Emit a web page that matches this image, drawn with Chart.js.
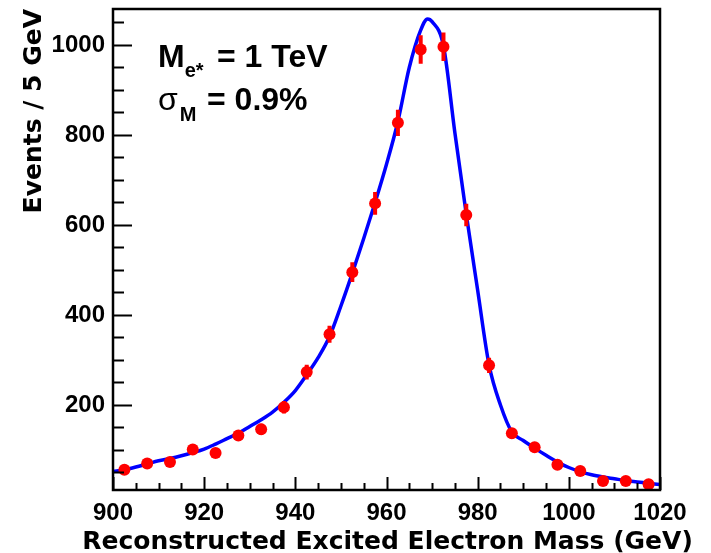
<!DOCTYPE html>
<html>
<head>
<meta charset="utf-8">
<script src="https://cdn.jsdelivr.net/npm/chart.js@4.4.0/dist/chart.umd.min.js"></script>
<style>
  html, body { margin: 0; padding: 0; background: #fff; }
</style>
</head>
<body>
<canvas id="massChart" width="711" height="553"></canvas>
<script>
// binned pseudo-data (5 GeV bins)
const massBins = [902.5, 907.5, 912.5, 917.5, 922.5, 927.5, 932.5, 937.5, 942.5, 947.5, 952.5, 957.5,
                  962.5, 967.5, 972.5, 977.5, 982.5, 987.5, 992.5, 997.5, 1002.5, 1007.5, 1012.5, 1017.5];
const eventCounts = [56, 70, 73, 101, 93, 132, 146, 195, 273, 357, 495, 648,
                     827, 990, 996, 622, 288, 137, 106, 67, 53, 31, 31, 24];
const countErrors = [7.5, 8.4, 8.5, 10, 9.6, 11.5, 12, 14, 16.5, 19, 22, 25.5,
                     29, 31.5, 31.5, 25, 17, 11.7, 10.3, 8.2, 7.3, 5.6, 5.6, 4.9];

// fitted curve
const fitMass = [900, 902.5, 905, 907.5, 910, 912.5, 915, 917.5, 920, 922.5, 925, 927.5, 930, 932.5,
                 935, 937.5, 940, 942.5, 945, 947.5, 950, 952.5, 955, 957.5, 960, 962.5, 965, 967.5,
                 969, 970, 972.5, 975, 977.5, 980, 982.5, 985, 987.5, 990, 992.5, 995, 997.5, 1000,
                 1002.5, 1005, 1007.5, 1010, 1012.5, 1015, 1017.5, 1020];
const fitValues = [52, 56, 62, 69, 76, 81, 87, 94, 102, 113, 125, 137, 152, 167,
                   184, 206, 232, 267, 305, 352, 420, 493, 570, 650, 735, 830, 950, 1033,
                   1058, 1052, 998, 805, 624, 455, 289, 200, 140, 121, 104, 88, 73, 61,
                   52, 45, 40, 36, 32, 29, 26, 23];

const xTicks = [900, 920, 940, 960, 980, 1000, 1020];
const yTicks = [200, 400, 600, 800, 1000];
const xTitle = 'Reconstructed Excited Electron Mass (GeV)';
const yTitle = 'Events / 5 GeV';

const TICK_FONT = { family: "'Liberation Sans', Arial, sans-serif", size: 24, weight: 'bold' };
const TITLE_FONT = { family: "'DejaVu Sans', sans-serif", size: 25, weight: 'bold', lineHeight: 1 };

// vertical error bars, drawn after the fit line but under the markers
const errorBars = {
    id: 'errorBars',
    afterDatasetDraw(chart, args) {
        if (args.index !== 1) return;
        const { ctx, scales: { x, y } } = chart;
        ctx.save();
        ctx.strokeStyle = '#ff0000';
        ctx.lineWidth = 4;
        ctx.beginPath();
        massBins.forEach((m, i) => {
            const px = x.getPixelForValue(m);
            ctx.moveTo(px, y.getPixelForValue(eventCounts[i] - countErrors[i]));
            ctx.lineTo(px, y.getPixelForValue(eventCounts[i] + countErrors[i]));
        });
        ctx.stroke();
        ctx.restore();
    }
};

// ROOT style frame with inward ticks, plus the x title (Chart.js would squeeze it to the axis width)
const frameTicks = {
    id: 'frameTicks',
    afterDraw(chart) {
        const { ctx, chartArea: a, scales: { x, y } } = chart;
        ctx.save();
        ctx.strokeStyle = '#000';
        ctx.lineWidth = 2;
        ctx.beginPath();
        for (let v = x.min; v <= x.max; v += 5) {
            const px = Math.round(x.getPixelForValue(v)) + 0.5;
            const len = v % 20 === 0 ? 13 : 7;
            ctx.moveTo(px, a.bottom);
            ctx.lineTo(px, a.bottom - len);
        }
        for (let v = 50; v < y.max; v += 50) {
            const py = Math.round(y.getPixelForValue(v)) + 0.5;
            const len = v % 200 === 0 ? 19 : 11;
            ctx.moveTo(a.left, py);
            ctx.lineTo(a.left + len, py);
        }
        ctx.stroke();
        ctx.lineWidth = 2.5;
        ctx.strokeRect(a.left, a.top, a.right - a.left, a.bottom - a.top);

        ctx.fillStyle = '#000';
        ctx.font = "bold 25px 'DejaVu Sans', sans-serif";
        ctx.textAlign = 'center';
        ctx.textBaseline = 'alphabetic';
        ctx.fillText(xTitle, (a.left + a.right) / 2 + 1, 549);
        ctx.restore();
    }
};

// "M_e* = 1 TeV" / "sigma_M = 0.9%" label
const massLabel = {
    id: 'massLabel',
    afterDraw(chart) {
        const { ctx, chartArea: a } = chart;
        const big = "bold 32px 'Liberation Sans', Arial, sans-serif";
        const small = "bold 20px 'Liberation Sans', Arial, sans-serif";
        const x0 = a.left + 45;
        ctx.save();
        ctx.fillStyle = '#000';
        ctx.textBaseline = 'alphabetic';
        ctx.textAlign = 'left';

        let y1 = a.top + 58;
        ctx.font = big;
        ctx.fillText('M', x0, y1);
        let x = x0 + ctx.measureText('M').width;
        ctx.font = small;
        ctx.fillText('e*', x, y1 + 10);
        ctx.font = big;
        ctx.fillText('= 1 TeV', x0 + 59, y1);

        let y2 = a.top + 101;
        ctx.font = "32px 'Liberation Sans', Arial, sans-serif";
        ctx.fillText('σ', x0, y2);
        x = x0 + ctx.measureText('σ').width + 2;
        ctx.font = small;
        ctx.fillText('M', x, y2 + 11);
        ctx.font = big;
        ctx.fillText('= 0.9%', x0 + 49, y2);
        ctx.restore();
    }
};

new Chart(document.getElementById('massChart'), {
    type: 'scatter',
    data: {
        datasets: [
            {
                label: 'Events',
                data: massBins.map((m, i) => ({ x: m, y: eventCounts[i] })),
                backgroundColor: '#ff0000',
                borderWidth: 0,
                pointRadius: 6,
                showLine: false
            },
            {
                label: 'Fit',
                data: fitMass.map((m, i) => ({ x: m, y: fitValues[i] })),
                borderColor: '#0000ff',
                borderWidth: 3.5,
                pointRadius: 0,
                showLine: true,
                cubicInterpolationMode: 'monotone'
            }
        ]
    },
    options: {
        responsive: false,
        animation: false,
        layout: { padding: { top: 9, right: 51, left: 0, bottom: 0 } },
        plugins: {
            legend: { display: false },
            tooltip: { enabled: false }
        },
        scales: {
            x: {
                type: 'linear',
                min: 900,
                max: 1020,
                grid: { display: false, drawTicks: false },
                border: { display: false },
                afterBuildTicks: s => { s.ticks = xTicks.map(v => ({ value: v })); },
                afterFit: s => { s.height = 63; s.paddingLeft = 0; s.paddingRight = 0; },
                ticks: {
                    color: '#000', font: TICK_FONT, padding: 9, maxRotation: 0, autoSkip: false,
                    callback: v => String(v)
                },
                title: { display: false }
            },
            y: {
                type: 'linear',
                min: 11,
                max: 1080,
                grid: { display: false, drawTicks: false },
                border: { display: false },
                afterBuildTicks: s => { s.ticks = yTicks.map(v => ({ value: v })); },
                afterFit: s => { s.width = 113; s.paddingTop = 0; s.paddingBottom = 0; },
                ticks: { color: '#000', font: TICK_FONT, padding: 8, callback: v => String(v) },
                title: {
                    display: true,
                    text: yTitle,
                    color: '#000',
                    font: TITLE_FONT,
                    align: 'end',
                    padding: { top: 22 }
                }
            }
        }
    },
    plugins: [errorBars, frameTicks, massLabel]
});
</script>
</body>
</html>
